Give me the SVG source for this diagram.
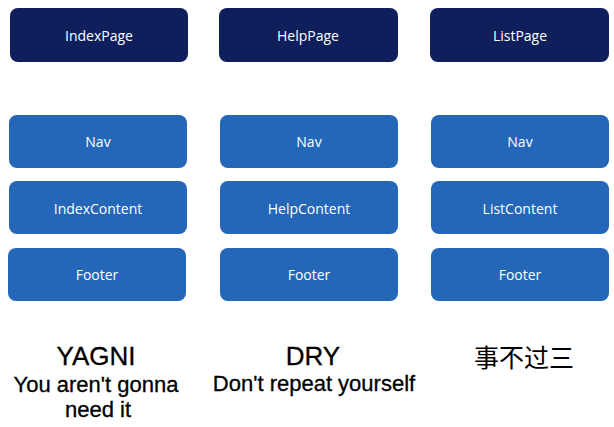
<svg xmlns="http://www.w3.org/2000/svg" width="614" height="427" viewBox="0 0 614 427">
<style>
.page{fill:#0f1f5c}
.comp{fill:#2466b8}
.lbl{fill:#ffffff;font-family:"Open Sans","Noto Sans",sans-serif;font-size:14px;text-anchor:middle;dominant-baseline:central}
.big{fill:#000;font-family:"Liberation Sans","Noto Sans CJK SC",sans-serif;text-anchor:middle;stroke:#000;stroke-width:0.3}
.cjk{fill:#000;font-family:"Noto Sans CJK SC",sans-serif;text-anchor:middle}
</style>
<rect width="614" height="427" fill="#ffffff"/>
<g id="IndexPage"><rect class="page" x="10" y="8" width="178" height="54" rx="8"/><text class="lbl" x="99" y="35">IndexPage</text></g>
<g id="HelpPage"><rect class="page" x="219" y="8" width="179" height="54" rx="8"/><text class="lbl" x="308" y="35">HelpPage</text></g>
<g id="ListPage"><rect class="page" x="430" y="8" width="179" height="54" rx="8"/><text class="lbl" x="520" y="35">ListPage</text></g>
<g id="Nav1"><rect class="comp" x="9" y="115" width="178" height="53" rx="8"/><text class="lbl" x="98" y="141">Nav</text></g>
<g id="Nav2"><rect class="comp" x="220" y="115" width="178" height="53" rx="8"/><text class="lbl" x="309" y="141">Nav</text></g>
<g id="Nav3"><rect class="comp" x="431" y="115" width="178" height="53" rx="8"/><text class="lbl" x="520" y="141">Nav</text></g>
<g id="IndexContent"><rect class="comp" x="9" y="181" width="178" height="53" rx="8"/><text class="lbl" x="98" y="208">IndexContent</text></g>
<g id="HelpContent"><rect class="comp" x="220" y="181" width="178" height="53" rx="8"/><text class="lbl" x="309" y="208">HelpContent</text></g>
<g id="ListContent"><rect class="comp" x="431" y="181" width="178" height="53" rx="8"/><text class="lbl" x="520" y="208">ListContent</text></g>
<g id="Footer1"><rect class="comp" x="8" y="248" width="178" height="53" rx="8"/><text class="lbl" x="97" y="274">Footer</text></g>
<g id="Footer2"><rect class="comp" x="220" y="248" width="178" height="53" rx="8"/><text class="lbl" x="309" y="274">Footer</text></g>
<g id="Footer3"><rect class="comp" x="431" y="248" width="178" height="53" rx="8"/><text class="lbl" x="520" y="274">Footer</text></g>
<g id="labels">
<text class="big" x="96" y="365" font-size="26">YAGNI</text>
<text class="big" x="96" y="392" font-size="22">You aren't gonna</text>
<text class="big" x="98" y="417" font-size="22">need it</text>
<text class="big" x="313" y="365" font-size="26">DRY</text>
<text class="big" x="314" y="391" font-size="22">Don't repeat yourself</text>
<text class="cjk" x="524" y="367" font-size="25">事不过三</text>
</g>
<g id="connectors"></g>
</svg>
